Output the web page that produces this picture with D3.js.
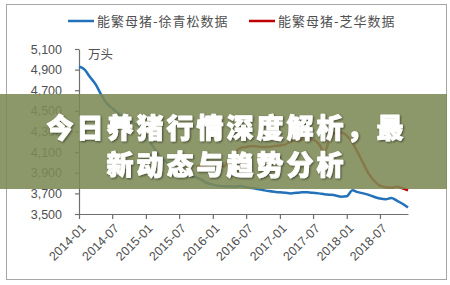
<!DOCTYPE html>
<html>
<head>
<meta charset="utf-8">
<script src="https://cdn.jsdelivr.net/npm/d3@7"></script>
<style>
  body { margin: 0; background: #fff; }
  svg { display: block; }
</style>
</head>
<body>
<svg id="chart" width="450" height="285"></svg>
<script>
// monthly categories 2014-01 .. 2018-12
var months = d3.timeMonth.range(new Date(2014, 0, 1), new Date(2019, 0, 1));
var tickLabels = ['2014-01', '2014-07', '2015-01', '2015-07', '2016-01', '2016-07', '2017-01', '2017-07', '2018-01', '2018-07'];
var yTicks = [3500, 3700, 3900, 4100, 4300, 4500, 4700, 4900, 5100];
var seriesNames = ['能繁母猪-徐青松数据', '能繁母猪-芝华数据'];

// 能繁母猪-徐青松数据 (2014-01 .. 2018-12)
var xuValues = [
    4930, 4900, 4830, 4760, 4660, 4575, 4525, 4480, 4440, 4410,
    4375, 4330, 4265, 4175, 4100, 4040, 3995, 3960, 3920, 3890,
    3870, 3855, 3830, 3800, 3785, 3775, 3768, 3768, 3765, 3772,
    3760, 3752, 3742, 3732, 3722, 3715, 3710, 3705, 3700, 3705,
    3710, 3710, 3705, 3700, 3692, 3687, 3680, 3668, 3672, 3730,
    3712, 3700, 3685, 3665, 3650, 3643, 3655, 3630, 3600, 3562
];
// 能繁母猪-芝华数据 (2015-10 .. 2018-12)
var zhStart = '2015-10';
var zhValues = [
    3960, 3965, 3975, 4000, 3980, 3960, 4040, 4100, 4140, 4150,
    4160, 4155, 4150, 4150, 4160, 4165, 4175, 4205, 4215, 4220,
    4225, 4220, 4180, 4100, 4230, 4285, 4290, 4260, 4190, 4100,
    3990, 3890, 3820, 3775, 3760, 3755, 3765, 3750, 3730
];
var titleLines = ['今日养猪行情深度解析，最', '新动态与趋势分析'];

var parse = d3.timeParse('%Y-%m');
var svg = d3.select('#chart');
var cs = {
    blue: '#2372b9',
    red: '#c00000',
    axis: '#6e6e6e',
    text: '#505050',
    font: '"Liberation Sans", Arial, sans-serif',
    cjk: '"Noto Sans CJK SC", sans-serif'
};

// outer frame
svg.append('rect')
    .attr('x', 6.5).attr('y', 4.5)
    .attr('width', 440).attr('height', 275)
    .attr('fill', '#fff').attr('stroke', '#a6a6a6');

var x = d3.scaleTime()
    .domain([months[0], months[months.length - 1]])
    .range([79, 408]);
var y = d3.scaleLinear()
    .domain([3500, 5100])
    .range([214, 49]);

var yAxis = d3.axisLeft(y)
    .tickValues(yTicks)
    .tickSize(4)
    .tickSizeOuter(0)
    .tickPadding(13)
    .tickFormat(d3.format(','));
var gy = svg.append('g').attr('transform', 'translate(79,0)').call(yAxis);

var xAxis = d3.axisBottom(x)
    .tickValues(tickLabels.map(parse))
    .tickSize(5)
    .tickSizeOuter(0)
    .tickFormat(d3.timeFormat('%Y-%m'));
var gx = svg.append('g').attr('transform', 'translate(0,214)').call(xAxis);

[gx, gy].forEach(g => {
    g.select('.domain').attr('stroke', cs.axis).attr('stroke-width', 1.2);
    g.selectAll('.tick line').attr('stroke', cs.axis).attr('stroke-width', 1.2);
    g.selectAll('text')
        .attr('fill', cs.text)
        .style('font-family', cs.font)
        .style('font-size', '12.5px');
});
gx.selectAll('.tick text')
    .attr('x', 0)
    .attr('y', 0)
    .attr('dy', '0.35em')
    .style('text-anchor', 'end')
    .attr('transform', 'translate(4,12) rotate(-45)');

svg.append('text')
    .attr('x', 88).attr('y', 59)
    .attr('fill', cs.text)
    .style('font-family', cs.cjk)
    .style('font-size', '12.5px')
    .text('万头');

var line = d3.line()
    .defined(d => d.v != null)
    .x(d => x(d.date))
    .y(d => y(d.v))
    .curve(d3.curveMonotoneX);

var xuData = xuValues.map((v, i) => ({ date: months[i], v: v }));
var zhOffset = d3.timeMonth.count(months[0], parse(zhStart));
var zhData = zhValues.map((v, i) => ({ date: months[zhOffset + i], v: v }));

svg.append('path').datum(xuData)
    .attr('fill', 'none').attr('stroke', cs.blue)
    .attr('stroke-width', 2.5).attr('d', line);
svg.append('path').datum(zhData)
    .attr('fill', 'none').attr('stroke', cs.red)
    .attr('stroke-width', 2.5).attr('d', line);

// legend
var legend = svg.append('g');
[[68, cs.blue], [249, cs.red]].forEach((l, i) => {
    legend.append('line')
        .attr('x1', l[0]).attr('x2', l[0] + 26)
        .attr('y1', 21).attr('y2', 21)
        .attr('stroke', l[1]).attr('stroke-width', 2.5);
    legend.append('text')
        .attr('x', l[0] + 29).attr('y', 21)
        .attr('dy', '0.36em')
        .attr('fill', cs.text)
        .style('font-family', cs.cjk)
        .style('font-size', '13px')
        .style('letter-spacing', '1px')
        .text(seriesNames[i]);
});

// banner overlay
var defs = svg.append('defs');
var f = defs.append('filter').attr('id', 'shadow')
    .attr('x', '-10%').attr('y', '-30%').attr('width', '120%').attr('height', '160%');
f.append('feDropShadow')
    .attr('dx', 1).attr('dy', 1).attr('stdDeviation', 1.2)
    .attr('flood-color', '#000').attr('flood-opacity', 0.55);

svg.append('rect')
    .attr('x', 0).attr('y', 94)
    .attr('width', 447).attr('height', 95)
    .attr('fill', '#7d8a55').attr('fill-opacity', 0.88);

svg.append('g').selectAll('text')
    .data(titleLines)
    .join('text')
    .attr('x', 226.5)
    .attr('y', (d, i) => 126 + i * 37)
    .attr('text-anchor', 'middle')
    .attr('dominant-baseline', 'central')
    .attr('fill', '#fff')
    .attr('stroke', '#fff')
    .attr('stroke-width', 0.9)
    .attr('stroke-linejoin', 'round')
    .attr('filter', 'url(#shadow)')
    .style('font-family', cs.cjk)
    .style('font-weight', '900')
    .style('font-size', '27px')
    .style('letter-spacing', '3px')
    .text(d => d);
</script>
</body>
</html>
